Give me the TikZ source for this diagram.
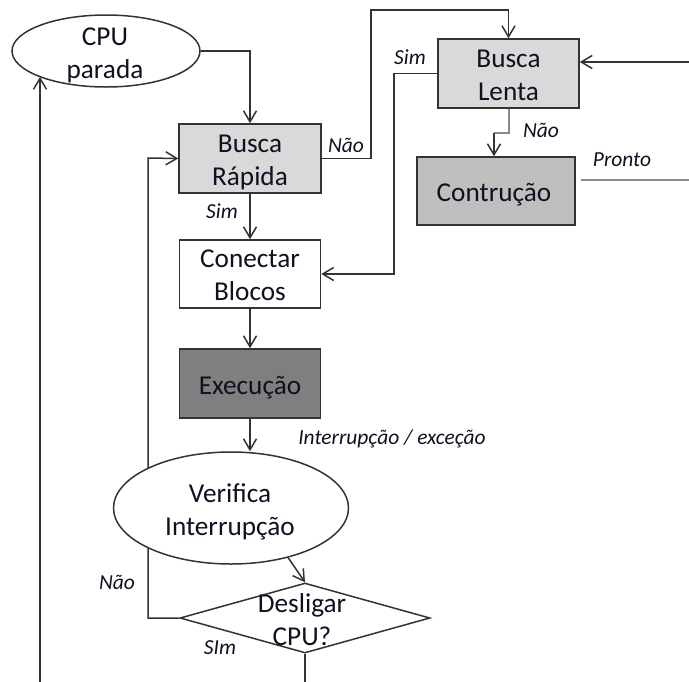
\documentclass[tikz,border=0pt]{standalone}
\usepackage{fontspec}
\setmainfont{Carlito}
\usetikzlibrary{shapes.geometric,arrows.meta}
\pgfdeclarelayer{background}
\pgfsetlayers{background,main}

\definecolor{ink}{HTML}{101020}
\definecolor{linecol}{HTML}{333333}
\definecolor{softline}{HTML}{8A8A8A}
\definecolor{fillA}{HTML}{D9D9D9}
\definecolor{fillB}{HTML}{BFBFBF}
\definecolor{fillC}{HTML}{7F7F7F}

\tikzset{
  wire/.style={draw=linecol, line width=0.3mm},
  greywire/.style={draw=softline, line width=0.4mm},
  arr/.style={wire, -{Straight Barb[length=2.2mm, width=2.6mm, line width=0.3mm]}},
  maintext/.style={font=\fontsize{15.5}{18.8}\selectfont, text=ink, align=center, inner sep=0pt},
  boxtext/.style={maintext, text depth=0pt},
  procbox/.style={maintext, draw=linecol, line width=0.3mm, minimum height=13.8mm},
  oval/.style={ellipse, draw=linecol, line width=0.3mm, fill=white, inner sep=0pt},
  decision/.style={diamond, draw=linecol, line width=0.3mm, fill=white, inner sep=0pt},
  lbl/.style={font=\fontsize{12.2}{14}\selectfont\itshape, text=ink, inner sep=0pt,
              text height=0.64em, text depth=0pt, yshift=-0.3mm},
}

\begin{document}
\begin{tikzpicture}[x=0.2mm, y=-0.2mm]
\useasboundingbox (0,0) rectangle (689,682);

% process boxes (frames), text placed on top
\node[procbox, fill=fillA, minimum width=28.4mm] (brapida) at (250,158.5) {};
\node[procbox, fill=fillA, minimum width=28.2mm] (blenta) at (508.5,73.5) {};
\node[procbox, fill=fillB, minimum width=31.6mm, minimum height=13.6mm] (contr) at (496,191) {};
\node[procbox, fill=white, minimum width=28.2mm, minimum height=13.6mm] (conectar) at (250,274) {};
\node[procbox, fill=fillC, minimum width=28.2mm] (exec) at (250,383.5) {};

% ovals and decision
\node[oval, minimum width=37.6mm, minimum height=14.4mm] (cpu) at (106,51) {};
\node[oval, minimum width=47mm, minimum height=22.4mm] (verif) at (231,508) {};
\node[decision, minimum width=50mm, minimum height=14mm] (desl) at (305,618) {};

% texts of the blocks
\node[boxtext] (brapidatxt) at (250,160) {Busca\\Rápida};
\node[boxtext] (blentatxt) at (508.5,75) {Busca\\Lenta};
\node[boxtext] (contrtxt) at (494,192) {Contrução};
\node[boxtext] (conectartxt) at (250,275) {Conectar\\Blocos};
\node[boxtext] (exectxt) at (250,385) {Execução};
\node[boxtext] (cputxt) at (105,53) {CPU\\parada};
\node[boxtext] (veriftxt) at (230,509.5) {Verifica\\Interrupção};
\node[boxtext] (desltxt) at (302,619.5) {Desligar\\CPU?};

% free ends and bends
\coordinate (upbend) at (371,10);
\coordinate (inright) at (689,62);
\coordinate (simbend) at (394,274);
\coordinate (naobend) at (494,133);
\coordinate (prontoA) at (581,180);
\coordinate (prontoB) at (689,180);
\coordinate (loopbend) at (148,158);
\coordinate (botA) at (40,682);
\coordinate (botB) at (305,682);

\begin{pgfonlayer}{background}
  \draw[arr] (cpu.east) -| (brapida.north);
  \draw[arr] (brapida.east) -| (upbend) -| (blenta.north);
  \draw[arr] (inright) -- (blenta.east |- inright);
  \draw[arr] (blenta.west) -| (simbend) -- (conectar.east);
  \draw[greywire] (blenta.south) |- (naobend);
  \draw[arr] (naobend) -- (naobend |- contr.north);
  \draw[greywire] (prontoA) -- (prontoB);
  \draw[arr] (brapida.south) -- (conectar.north);
  \draw[arr] (conectar.south) -- (exec.north);
  \draw[arr] (exec.south) -- (exec.south |- verif.north);
  \draw[arr] (verif.-41) -- (desl.north);
  \draw[arr] (desl.west) -| (loopbend) -- (brapida.west);
  \draw[wire] (desl.south) -- (botB);
  \draw[arr] (botA) -- (botA |- cpu.201);
\end{pgfonlayer}

% connector labels
\node[lbl] (lNao1) at (346,145) {Não};
\node[lbl] (lSim1) at (410,57) {Sim};
\node[lbl] (lNao2) at (541,130) {Não};
\node[lbl] (lPronto) at (622,159) {Pronto};
\node[lbl] (lSim2) at (222,211) {Sim};
\node[lbl] (lInt) at (392,437) {Interrupção / exceção};
\node[lbl] (lNao3) at (117,582) {Não};
\node[lbl] (lSim3) at (220,647) {SIm};
\end{tikzpicture}
\end{document}
